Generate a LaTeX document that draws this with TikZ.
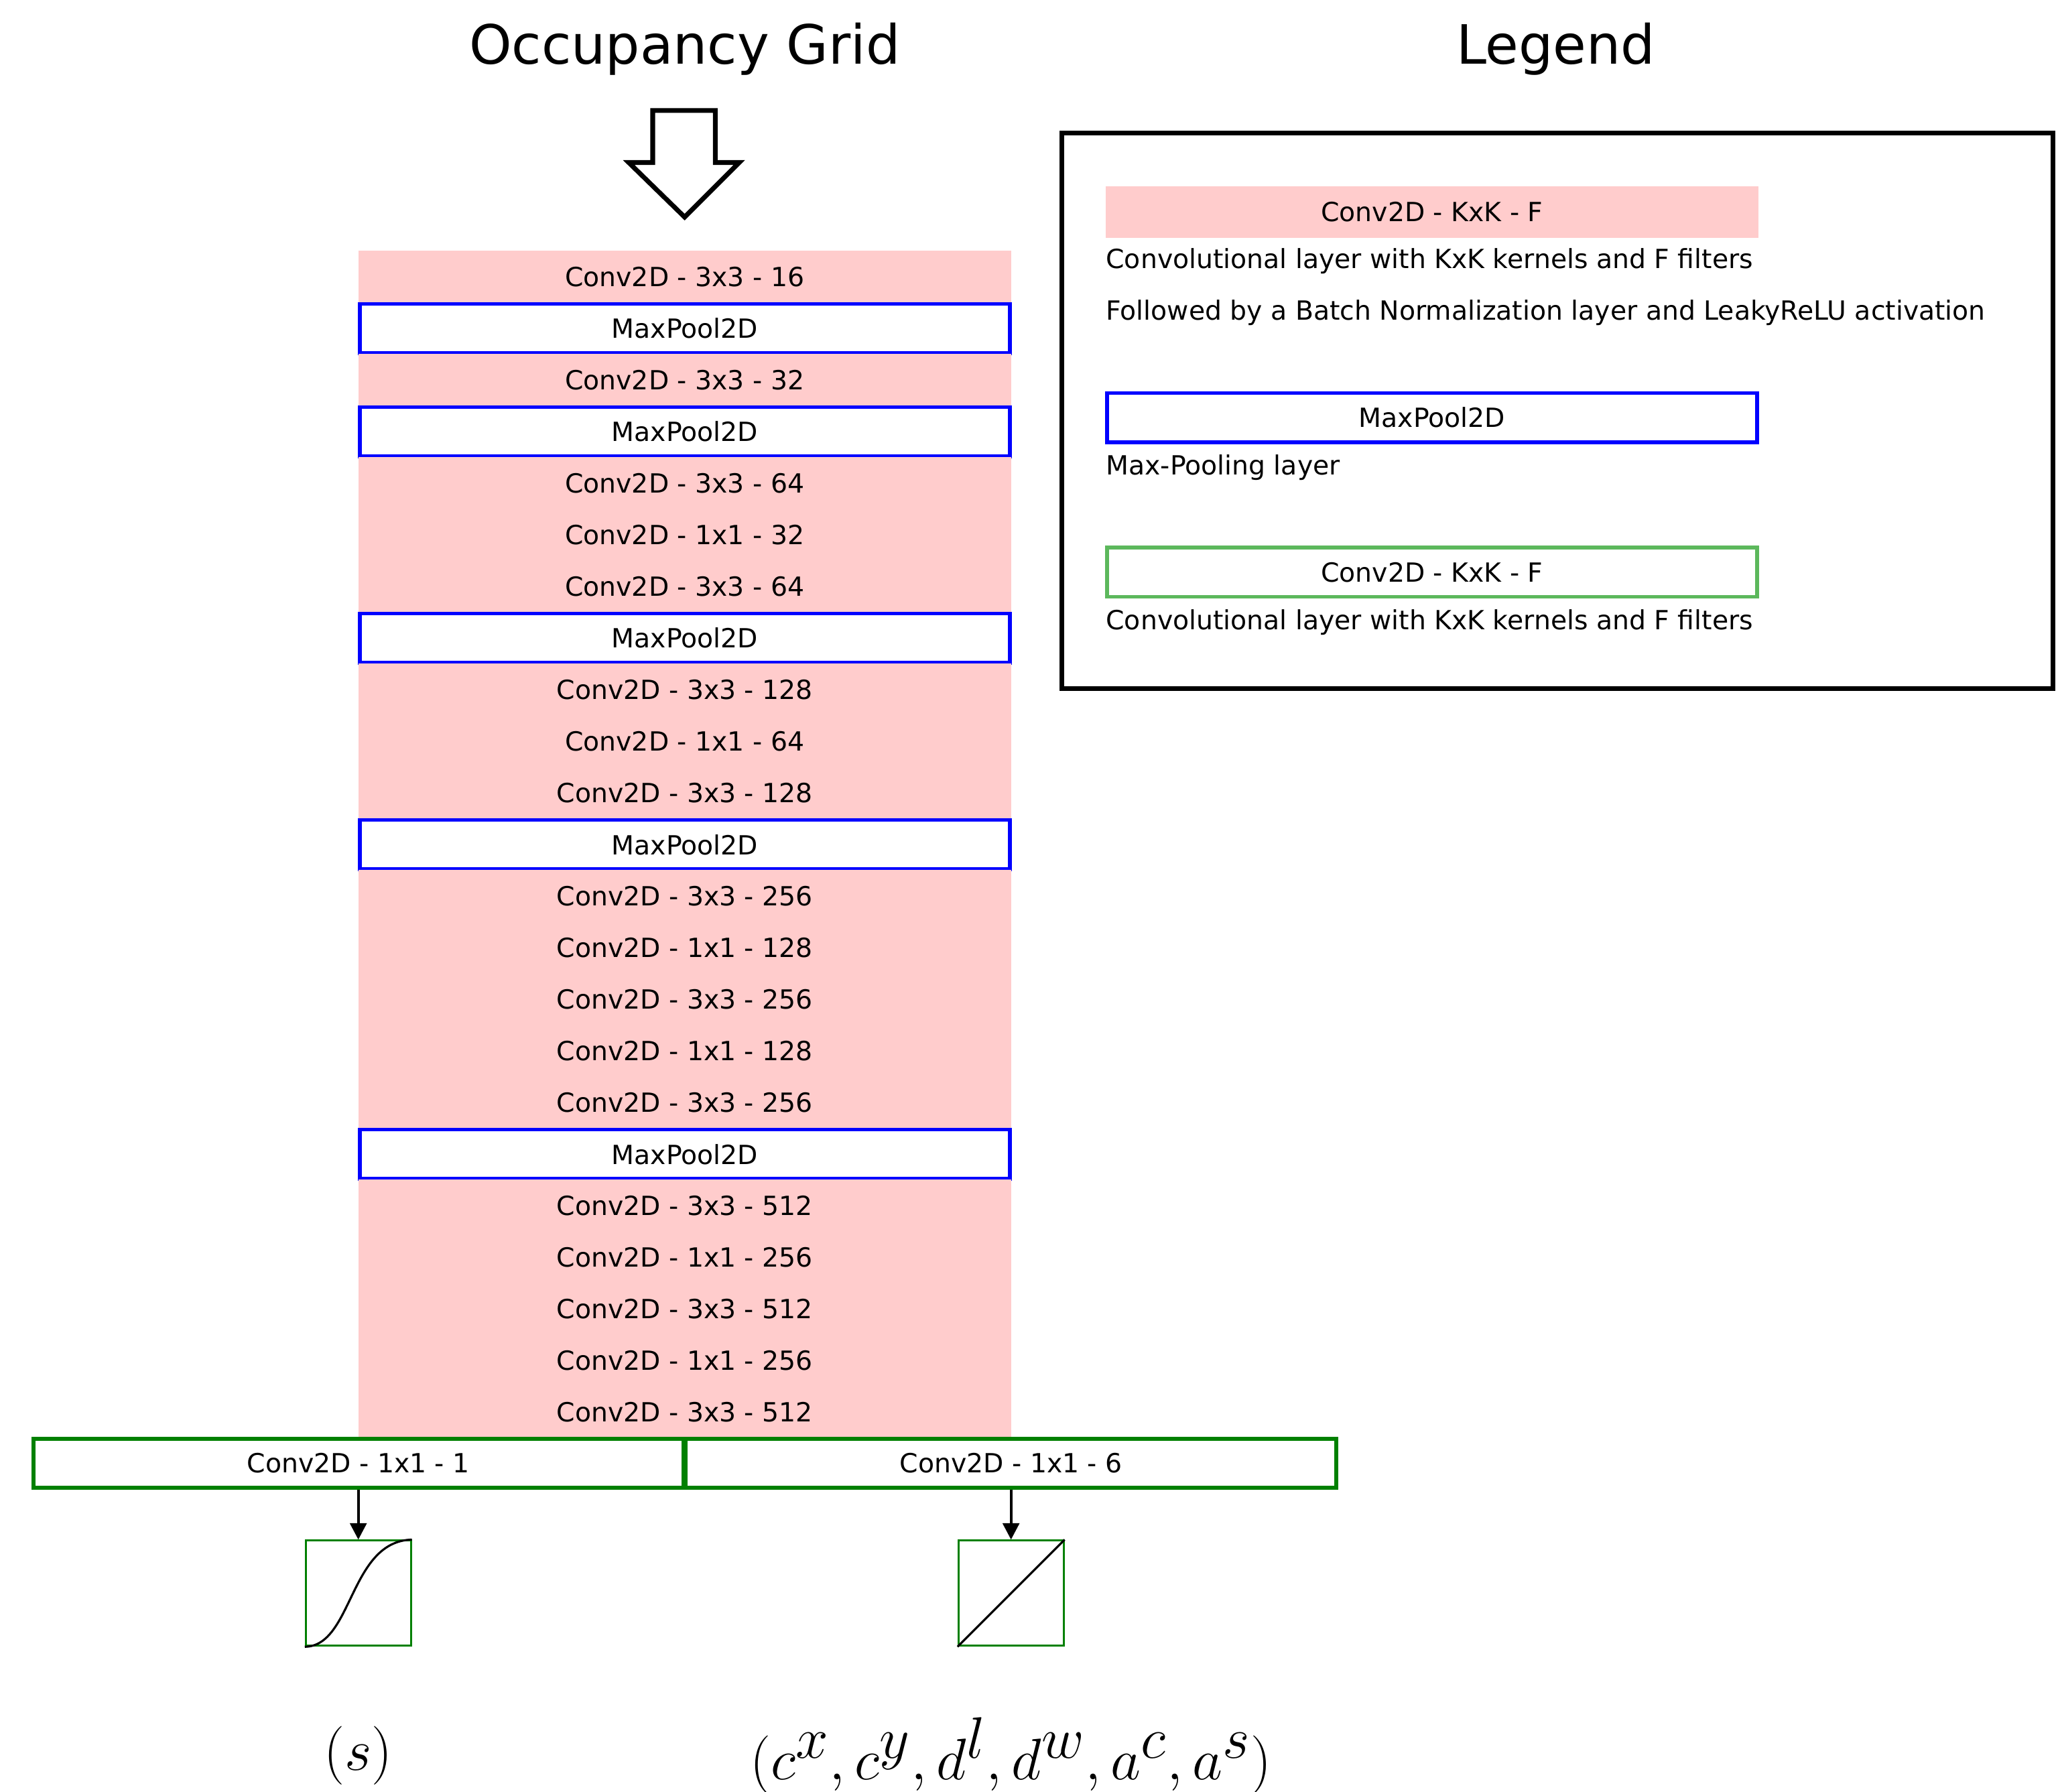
\documentclass[tikz,border=0pt]{standalone}
\usepackage{fontspec}
\setmainfont{DejaVu Sans}
\usetikzlibrary{arrows.meta}
\definecolor{pinkc}{HTML}{FFCCCC}
\definecolor{dgreen}{HTML}{008000}
\definecolor{lgreen}{HTML}{5CB85C}
\begin{document}
\begin{tikzpicture}[x=0.019877cm,y=-0.019877cm,
  conv/.style={draw=none,fill=pinkc,minimum width=490*0.019877cm,minimum height=38.7*0.019877cm,inner sep=0pt,font=\fontsize{11.2}{13}\selectfont,anchor=north},
  pool/.style={conv,fill=white,draw=blue,line width=1.6pt,minimum width=488*0.019877cm,minimum height=37*0.019877cm},
  gbox/.style={draw=dgreen,line width=1.6pt,fill=white,minimum width=488*0.019877cm,minimum height=37*0.019877cm,inner sep=0pt,font=\fontsize{11.2}{13}\selectfont},
  ltext/.style={anchor=west,inner sep=0pt,font=\fontsize{11.2}{13}\selectfont},
  arr/.style={-{Triangle[length=7pt,width=7pt]},line width=1.2pt}]
\useasboundingbox (0,0) rectangle (1545,1345);
\node[font=\fontsize{23}{26}\selectfont] (t1) at (514,37) {Occupancy Grid};
\node[font=\fontsize{23}{26}\selectfont] (t2) at (1168,37) {Legend};
\draw[line width=2pt,line join=miter] (490,83) -- (537,83) -- (537,122) -- (555,122) -- (514,163) -- (472,122) -- (490,122) -- cycle;
\fill[pinkc] (269,188) rectangle (759,1080);
\foreach [count=\i from 0] \t/\k in {Conv2D - 3x3 - 16/conv,MaxPool2D/pool,Conv2D - 3x3 - 32/conv,MaxPool2D/pool,Conv2D - 3x3 - 64/conv,Conv2D - 1x1 - 32/conv,Conv2D - 3x3 - 64/conv,MaxPool2D/pool,Conv2D - 3x3 - 128/conv,Conv2D - 1x1 - 64/conv,Conv2D - 3x3 - 128/conv,MaxPool2D/pool,Conv2D - 3x3 - 256/conv,Conv2D - 1x1 - 128/conv,Conv2D - 3x3 - 256/conv,Conv2D - 1x1 - 128/conv,Conv2D - 3x3 - 256/conv,MaxPool2D/pool,Conv2D - 3x3 - 512/conv,Conv2D - 1x1 - 256/conv,Conv2D - 3x3 - 512/conv,Conv2D - 1x1 - 256/conv,Conv2D - 3x3 - 512/conv}
  \node[\k] (r\i) at (514,{188+\i*38.74}) {\t};
\node[gbox] (g1) at (269,1098.5) {Conv2D - 1x1 - 1};
\node[gbox] (g2) at (759,1098.5) {Conv2D - 1x1 - 6};
\node[draw=dgreen,line width=0.8pt,minimum size=79*0.019877cm,inner sep=0pt] (a1) at (269,1196) {};
\node[draw=dgreen,line width=0.8pt,minimum size=79*0.019877cm,inner sep=0pt] (a2) at (759,1196) {};
\draw[arr] (g1.south) -- (a1.north);
\draw[arr] (g2.south) -- (a2.north);
\draw[line width=0.9pt] (a1.south west) .. controls (265,1236) and (262,1157) .. (a1.north east);
\draw[line width=0.9pt] (a2.south west) -- (a2.north east);
\node[font=\fontsize{31}{33}\selectfont] (o1) at (269,1318) {$(s)$};
\node[font=\fontsize{33}{35}\selectfont] (o2) at (759,1318) {$(c^x,c^y,d^l,d^w,a^c,a^s)$};
% legend
\draw[line width=2pt] (797,100) rectangle (1541,517);
\node[conv,minimum width=490*0.019877cm,anchor=center] (l1) at (1075,159) {Conv2D - KxK - F};
\node[ltext] (l2) at (830,196) {Convolutional layer with KxK kernels and F filters};
\node[ltext] (l3) at (830,235) {Followed by a Batch Normalization layer and LeakyReLU activation};
\node[pool,anchor=center] (l4) at (1075,313.5) {MaxPool2D};
\node[ltext] (l5) at (830,351) {Max-Pooling layer};
\node[gbox,draw=lgreen] (l6) at (1075,429.5) {Conv2D - KxK - F};
\node[ltext] (l7) at (830,467) {Convolutional layer with KxK kernels and F filters};
\end{tikzpicture}
\end{document}
